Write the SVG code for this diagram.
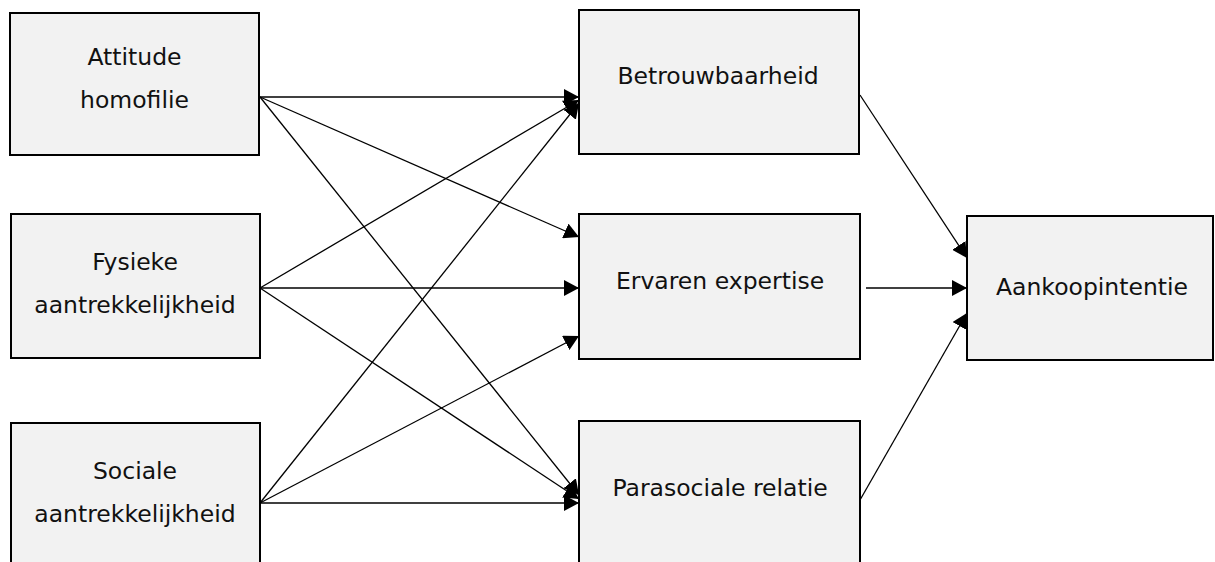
<svg xmlns="http://www.w3.org/2000/svg" width="1215" height="562" viewBox="0 0 1215 562">
<style>
.box{fill:#f2f2f2;stroke:#000;stroke-width:2}
.lbl{font-family:"DejaVu Sans",Verdana,sans-serif;font-size:23.5px;fill:#111;text-anchor:middle}
.con{stroke:#000;stroke-width:1.3;fill:none;marker-end:url(#ah)}
</style>
<defs>
<marker id="ah" markerUnits="userSpaceOnUse" markerWidth="16" markerHeight="16" refX="15" refY="8" orient="auto" viewBox="0 0 16 16">
<path d="M0,0 L15,8 L0,16 z" fill="#000"/>
</marker>
</defs>
<rect width="1215" height="562" fill="#fff"/>
<g id="n-attitude"><rect class="box" x="10" y="13" width="249" height="142"/><text class="lbl" x="134.5" y="65">Attitude</text><text class="lbl" x="134.5" y="108">homofilie</text></g>
<g id="n-fysieke"><rect class="box" x="11" y="214" width="249" height="144"/><text class="lbl" x="135" y="270">Fysieke</text><text class="lbl" x="135" y="313">aantrekkelijkheid</text></g>
<g id="n-sociale"><rect class="box" x="11" y="423" width="249" height="150"/><text class="lbl" x="135" y="479">Sociale</text><text class="lbl" x="135" y="522">aantrekkelijkheid</text></g>
<g id="n-betrouw"><rect class="box" x="579" y="10" width="280" height="144"/><text class="lbl" x="718" y="84">Betrouwbaarheid</text></g>
<g id="n-ervaren"><rect class="box" x="579" y="214" width="281" height="145"/><text class="lbl" x="720" y="289">Ervaren expertise</text></g>
<g id="n-parasoc"><rect class="box" x="579" y="421" width="281" height="150"/><text class="lbl" x="720" y="496">Parasociale relatie</text></g>
<g id="n-aankoop"><rect class="box" x="967" y="216" width="246" height="144"/><text class="lbl" x="1092" y="295">Aankoopintentie</text></g>
<g id="connectors">
<line class="con" x1="260" y1="97" x2="579" y2="97"/>
<line class="con" x1="260" y1="97" x2="579" y2="237"/>
<line class="con" x1="260" y1="97" x2="579" y2="495"/>
<line class="con" x1="260" y1="288" x2="579" y2="100"/>
<line class="con" x1="260" y1="288" x2="579" y2="288"/>
<line class="con" x1="260" y1="288" x2="579" y2="499"/>
<line class="con" x1="260" y1="503" x2="579" y2="103"/>
<line class="con" x1="260" y1="503" x2="579" y2="336"/>
<line class="con" x1="260" y1="503" x2="579" y2="503"/>
<line class="con" x1="860" y1="95" x2="967" y2="258"/>
<line class="con" x1="866" y1="288" x2="967" y2="288"/>
<line class="con" x1="860" y1="500" x2="967" y2="313"/>
</g>
</svg>
